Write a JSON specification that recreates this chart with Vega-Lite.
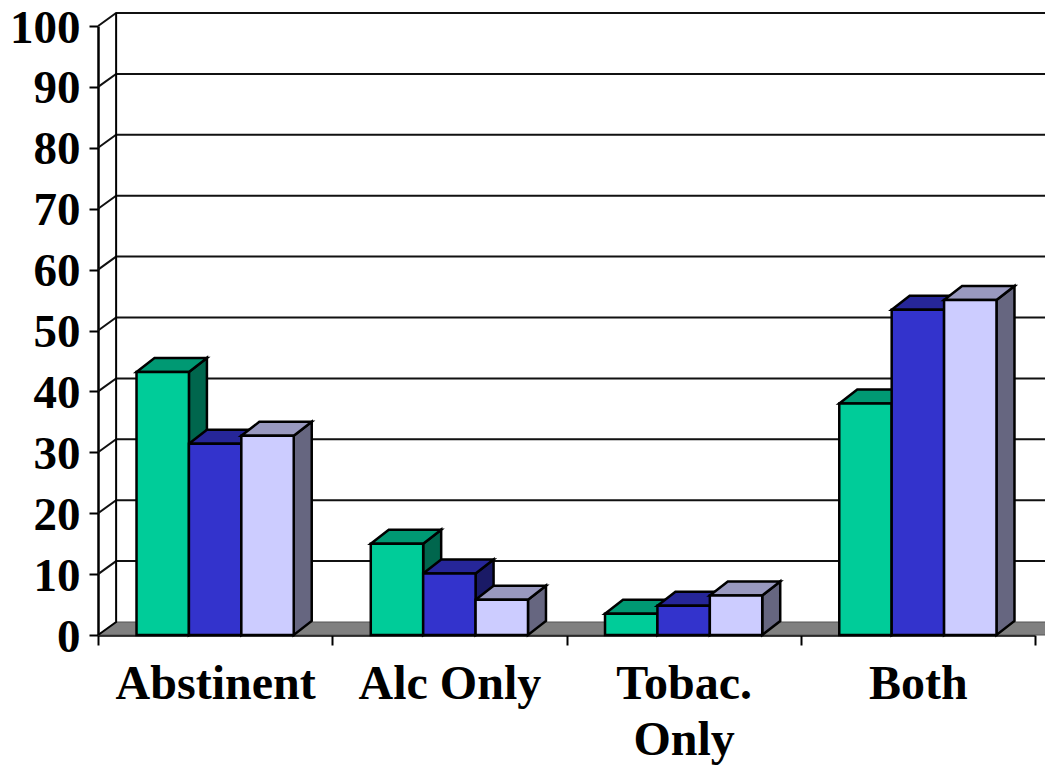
{
"$schema":"https://vega.github.io/schema/vega-lite/v6.json",
"autosize":"none",
"padding":{"left":98,"top":26,"right":10,"bottom":130},
"width":937,"height":609,
"background":"white",
"config":{"view":{"stroke":null},"axis":{"labelFont":"Liberation Serif","labelFontWeight":"bold","labelColor":"black","tickColor":"black","domainColor":"black","labelLimit":400}},
"datasets":{
"bars":[
{"category":"Abstinent","series":"Series 1","value":43.2},
{"category":"Abstinent","series":"Series 2","value":31.4},
{"category":"Abstinent","series":"Series 3","value":32.7},
{"category":"Alc Only","series":"Series 1","value":15},
{"category":"Alc Only","series":"Series 2","value":10.1},
{"category":"Alc Only","series":"Series 3","value":5.8},
{"category":"Tobac. Only","series":"Series 1","value":3.5},
{"category":"Tobac. Only","series":"Series 2","value":4.8},
{"category":"Tobac. Only","series":"Series 3","value":6.5},
{"category":"Both","series":"Series 1","value":38},
{"category":"Both","series":"Series 2","value":53.4},
{"category":"Both","series":"Series 3","value":55}
],
"ticks":[{"tick":0},{"tick":10},{"tick":20},{"tick":30},{"tick":40},{"tick":50},{"tick":60},{"tick":70},{"tick":80},{"tick":90},{"tick":100}]
},
"layer":[
{"data":{"values":[{"tick":0}]},
 "mark":{"type":"point","filled":true,"fill":"#808080","stroke":"#555555","strokeWidth":1,"opacity":1,"size":4,"shape":"M-117 0L-99 -13H860L842 0Z"},
 "encoding":{"x":{"datum":"Abstinent","type":"nominal","scale":{"domain":["Abstinent","Alc Only","Tobac. Only","Both"],"paddingInner":0,"paddingOuter":0},
   "axis":{"title":null,"labelAngle":0,"labelFontSize":48,"tickBand":"extent","tickSize":10,"tickWidth":2,"domainWidth":2.5,"labelPadding":15,"labelLineHeight":56,"labelBaseline":"top","labelBound":false,"labelOverlap":false,"labelExpr":"datum.label=='Tobac. Only'?['Tobac.','Only']:datum.label","grid":false}},
  "y":{"field":"tick","type":"quantitative","scale":{"domain":[0,100]},"axis":{"title":null,"values":[0,10,20,30,40,50,60,70,80,90,100],"labelFontSize":47,"labelOffset":2,"tickSize":9,"tickWidth":2,"domainWidth":2.5,"labelPadding":9,"grid":false}}}},
{"data":{"name":"ticks"},"transform":[{"filter":"datum.tick>0"}],
 "mark":{"type":"point","filled":false,"stroke":"#111111","strokeWidth":2,"opacity":1,"size":4,"shape":"M-117 0L-99 -13H860"},
 "encoding":{"x":{"datum":"Abstinent","type":"nominal"},"y":{"field":"tick","type":"quantitative"}}},
{"data":{"values":[{"tick":0}]},
 "mark":{"type":"point","filled":false,"stroke":"black","strokeWidth":2,"opacity":1,"size":4,"shape":"M-117 0L-99 -13V-622"},
 "encoding":{"x":{"datum":"Abstinent","type":"nominal"},"y":{"field":"tick","type":"quantitative"}}},
{"data":{"name":"bars"},"transform":[{"calculate":"'M26.2 0L44.2 -14V'+format(datum.value*6.09-14,'.1f')+'L26.2 '+format(datum.value*6.09,'.1f')+'Z'","as":"sidePath"}],
 "mark":{"type":"point","filled":true,"stroke":"black","strokeWidth":2.5,"opacity":1,"size":4},
 "encoding":{"x":{"field":"category","type":"nominal"},
  "xOffset":{"field":"series","type":"nominal","scale":{"domain":["Series 1","Series 2","Series 3"],"paddingInner":0,"paddingOuter":0.735}},
  "y":{"field":"value","type":"quantitative"},
  "shape":{"field":"sidePath","type":"nominal","scale":null,"legend":null},
  "fill":{"field":"series","type":"nominal","legend":null,"scale":{"domain":["Series 1","Series 2","Series 3"],"range":["#00664D","#1A1A66","#666680"]}}}},
{"data":{"name":"bars"},
 "mark":{"type":"point","filled":true,"stroke":"black","strokeWidth":2.5,"opacity":1,"size":4,"shape":"M-26.2 0L-8.2 -14H44.2L26.2 0Z"},
 "encoding":{"x":{"field":"category","type":"nominal"},
  "xOffset":{"field":"series","type":"nominal"},
  "y":{"field":"value","type":"quantitative"},
  "fill":{"field":"series","type":"nominal","legend":null,"scale":{"domain":["Series 1","Series 2","Series 3"],"range":["#009973","#262699","#9999BF"]}}}},
{"data":{"name":"bars"},
 "mark":{"type":"bar","stroke":"black","strokeWidth":2.5,"opacity":1},
 "encoding":{"x":{"field":"category","type":"nominal"},
  "xOffset":{"field":"series","type":"nominal"},
  "y":{"field":"value","type":"quantitative"},
  "fill":{"field":"series","type":"nominal","legend":null,"scale":{"domain":["Series 1","Series 2","Series 3"],"range":["#00CC99","#3333CC","#CCCCFF"]}}}}
],
"resolve":{"scale":{"fill":"independent"}}
}
